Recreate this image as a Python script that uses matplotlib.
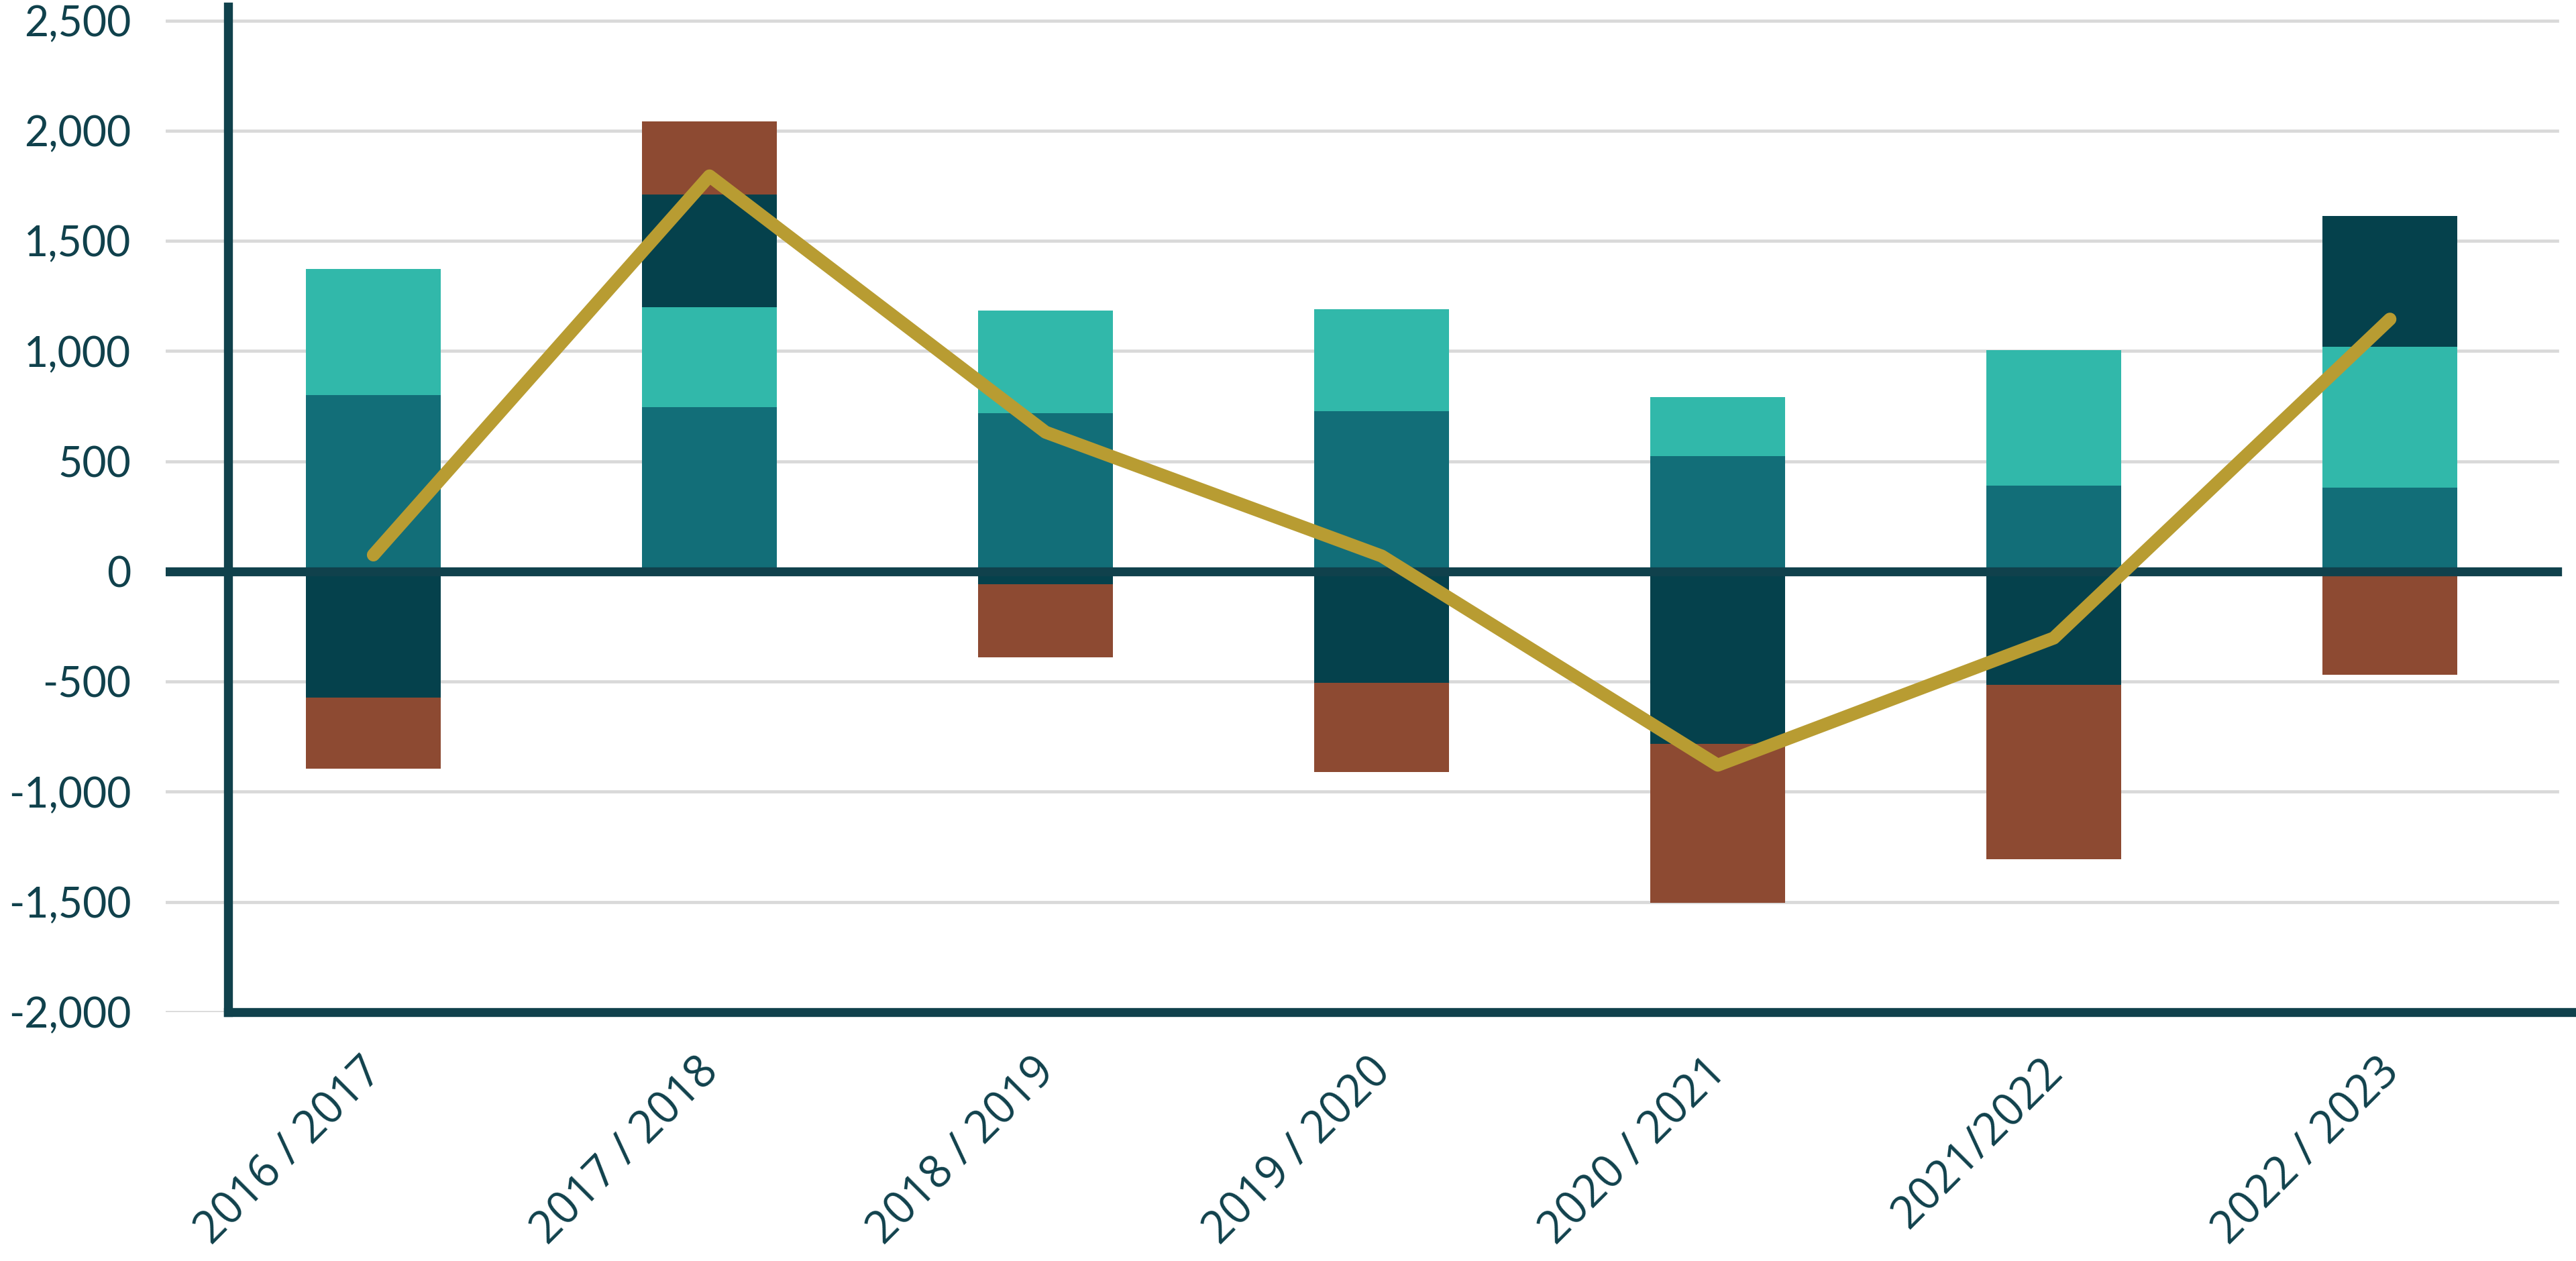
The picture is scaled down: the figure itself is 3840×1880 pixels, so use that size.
import matplotlib
matplotlib.use("Agg")
import matplotlib.pyplot as plt
import matplotlib.transforms as mtransforms
from matplotlib import font_manager
import numpy as np

# ---------------- data ----------------
categories = ["2016 / 2017", "2017 / 2018", "2018 / 2019", "2019 / 2020",
              "2020 / 2021", "2021/2022", "2022 / 2023"]
series_mid_teal = [801, 746, 718, 726, 523, 390, 381]
series_light_teal = [571, 453, 467, 464, 269, 613, 638]
series_dark = [-573, 513, -59, -505, -781, -514, 593]
series_brown = [-322, 331, -331, -406, -722, -793, -468]
line_values = [75, 1795, 632, 70, -879, -302, 1145]
y_ticks = [-2000, -1500, -1000, -500, 0, 500, 1000, 1500, 2000, 2500]

# ---------------- style ----------------
C_MID = "#126E78"
C_LIGHT = "#31B8AA"
C_DARK = "#05414C"
C_BROWN = "#8D4A32"
C_GOLD = "#B89C32"
C_AXIS = "#10414C"
C_GRID = "#D9D9D9"

# make sure the x-label family resolves to an installed font
xfam = "Open Sans"
try:
    font_manager.findfont(font_manager.FontProperties(family=xfam), fallback_to_default=False)
except Exception:
    xfam = "Noto Sans"

W, H, DPI = 3841, 1880, 100
fig = plt.figure(figsize=(W / DPI, H / DPI), dpi=DPI)
ax = fig.add_axes([247 / W, 1 - 1509 / H, 1 - 247 / W, (1509 - 10) / H])

x = np.arange(len(categories))
bar_w = 0.4

series = [(series_mid_teal, C_MID), (series_light_teal, C_LIGHT),
          (series_dark, C_DARK), (series_brown, C_BROWN)]
pos_base = np.zeros(len(x))
neg_base = np.zeros(len(x))
for vals, col in series:
    v = np.array(vals, dtype=float)
    bottoms = np.where(v >= 0, pos_base, neg_base)
    ax.bar(x, v, bar_w, bottom=bottoms, color=col, linewidth=0, zorder=3)
    pos_base = pos_base + np.where(v >= 0, v, 0)
    neg_base = neg_base + np.where(v < 0, v, 0)

ax.plot(x, line_values, color=C_GOLD, lw=14, solid_capstyle="round",
        solid_joinstyle="round", zorder=5)

# gridlines and zero line
grid_end = (3812 - 247) / (W - 247)
for t in y_ticks:
    if t == 0:
        continue
    ax.axhline(t, xmin=0, xmax=grid_end, color=C_GRID, lw=3.4, zorder=1)
ax.axhline(0, xmin=0, xmax=grid_end, color=C_AXIS, lw=9.6, zorder=4)

x_left = (247 - 556.6) / 501
x_right = (W - 556.6) / 501
x_spine = (340 - 556.6) / 501
ax.set_xlim(x_left, x_right)
ax.set_ylim(-2000, 2563)

for s in ["top", "right"]:
    ax.spines[s].set_visible(False)
ax.spines["left"].set_position(("data", x_spine))
ax.spines["left"].set_color(C_AXIS)
ax.spines["left"].set_linewidth(9.6)
ax.spines["left"].set_zorder(6)
ax.spines["bottom"].set_color(C_AXIS)
ax.spines["bottom"].set_linewidth(9.6)
ax.spines["bottom"].set_bounds(x_spine, x_right)
ax.spines["bottom"].set_zorder(6)
ax.spines["left"].set_capstyle("projecting")

ax.set_yticks(y_ticks)
ax.set_yticklabels([f"{t:,}" for t in y_ticks], family=["Lato", "DejaVu Sans"],
                   fontsize=45, color=C_AXIS)
ax.tick_params(axis="y", length=0, pad=104)

ax.set_xticks(x)
ax.set_xticklabels(categories, rotation=45, ha="right", va="top",
                   rotation_mode="anchor", family=[xfam, "DejaVu Sans"],
                   fontsize=48, color=C_AXIS)
ax.tick_params(axis="x", length=0, pad=40)
offset = mtransforms.ScaledTranslation(-20 / DPI, 0, fig.dpi_scale_trans)
for lab in ax.get_xticklabels():
    lab.set_transform(lab.get_transform() + offset)

fig.savefig("out.png", dpi=DPI, facecolor="white")
